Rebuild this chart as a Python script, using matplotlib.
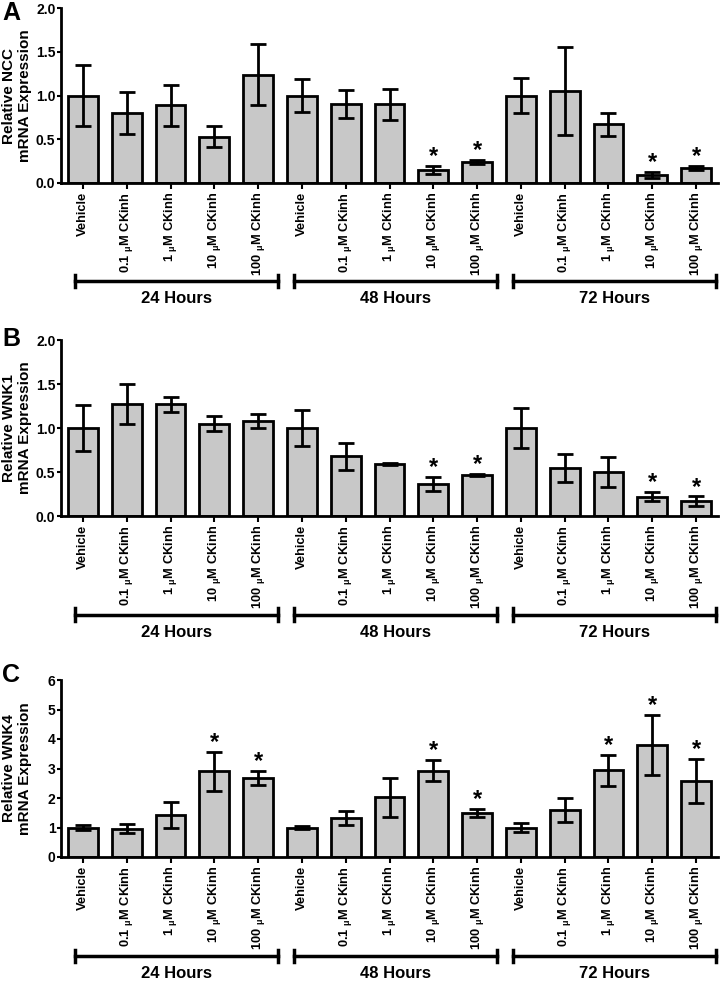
import numpy as np
import matplotlib
matplotlib.use('Agg')
from matplotlib import pyplot as plt

# categories
treatments = ['Vehicle', '0.1 $_{\\mu}$M CKinh', '1 $_{\\mu}$M CKinh',
              '10 $_{\\mu}$M CKinh', '100 $_{\\mu}$M CKinh']
times = ['24 Hours', '48 Hours', '72 Hours']

# panel A: NCC (15 bars: 5 treatments x 3 time points)
ncc_mean = [1.00, 0.80, 0.89, 0.53, 1.24,
            1.00, 0.90, 0.90, 0.15, 0.24,
            1.00, 1.05, 0.67, 0.09, 0.17]
ncc_err = [0.35, 0.24, 0.235, 0.12, 0.345,
           0.19, 0.16, 0.18, 0.045, 0.025,
           0.20, 0.50, 0.13, 0.038, 0.027]
ncc_sig = [8, 9, 13, 14]

# panel B: WNK1
wnk1_mean = [1.00, 1.27, 1.27, 1.05, 1.08,
             1.00, 0.68, 0.595, 0.365, 0.465,
             1.00, 0.545, 0.50, 0.22, 0.165]
wnk1_err = [0.26, 0.23, 0.085, 0.085, 0.08,
            0.20, 0.155, 0.01, 0.083, 0.012,
            0.23, 0.16, 0.17, 0.055, 0.057]
wnk1_sig = [8, 9, 13, 14]

# panel C: WNK4
wnk4_mean = [1.00, 0.96, 1.43, 2.90, 2.68,
             1.00, 1.32, 2.02, 2.93, 1.49,
             1.00, 1.59, 2.94, 3.80, 2.58]
wnk4_err = [0.08, 0.15, 0.43, 0.66, 0.24,
            0.04, 0.23, 0.65, 0.36, 0.13,
            0.14, 0.41, 0.52, 1.03, 0.75]
wnk4_sig = [3, 4, 8, 9, 12, 13, 14]

plt.rcParams['font.family'] = ['Liberation Sans', 'DejaVu Sans']
plt.rcParams['font.weight'] = 'bold'
plt.rcParams['mathtext.default'] = 'regular'

W, H = 723, 982
fig = plt.figure(figsize=(W / 100, H / 100), dpi=100)

labels = treatments * 3
x = np.arange(len(labels))


def px(xp, yp):
    return xp / W, 1 - yp / H


def panel(top, bottom, mean, err, sig, ylim, yticks, yfmt, ylabel, letter, letter_y):
    left, right = 61, 718
    ax = fig.add_axes([left / W, 1 - bottom / H, (right - left) / W, (bottom - top) / H])
    ax.bar(x, mean, width=0.68, color='#c8c8c8', edgecolor='black', linewidth=2.0, zorder=2)
    ax.errorbar(x, mean, yerr=err, fmt='none', ecolor='black', elinewidth=2.0,
                capsize=5.5, capthick=2.0, zorder=3)
    for i in sig:
        ax.text(x[i], mean[i] + err[i] - ylim[1] * 0.012, '*', ha='center', va='bottom',
                fontsize=17, fontweight='bold')
    ax.set_xlim(-0.5, 14.5)
    ax.set_ylim(*ylim)
    ax.set_yticks(yticks)
    ax.set_yticklabels([yfmt.format(v) for v in yticks], fontsize=10, fontweight='bold')
    ax.set_xticks(x)
    ax.set_xticklabels(labels, rotation=90, fontsize=9.3, fontweight='bold')
    ax.tick_params(axis='x', width=1.5, length=4, pad=2.5, direction='out')
    ax.tick_params(axis='y', width=1.5, length=3, pad=1, direction='out')
    for s in ['top', 'right']:
        ax.spines[s].set_visible(False)
    for s in ['left', 'bottom']:
        ax.spines[s].set_linewidth(2.0)

    # time brackets under the labels
    tr = ax.get_xaxis_transform()
    for k, t in enumerate(times):
        x0, x1 = k * 5 - 0.18, k * 5 + 4.45
        ax.plot([x0, x1], [-0.56, -0.56], color='black', lw=2.5, transform=tr, clip_on=False)
        ax.plot([x0, x0], [-0.525, -0.595], color='black', lw=2.5, transform=tr, clip_on=False)
        ax.plot([x1, x1], [-0.525, -0.595], color='black', lw=2.5, transform=tr, clip_on=False)
        ax.text((x0 + x1) / 2, -0.66, t, ha='center', va='center', transform=tr,
                fontsize=12, fontweight='bold')

    cy = (top + bottom) / 2
    fig.text(*px(17, cy), ylabel, rotation=90, ha='center', va='center',
             fontsize=11, fontweight='bold', linespacing=1.1, multialignment='center')
    fig.text(*px(2, letter_y), letter, ha='left', va='center', fontsize=18, fontweight='bold')
    return ax


panel(8, 183, ncc_mean, ncc_err, ncc_sig, (0, 2.0), [0, 0.5, 1.0, 1.5, 2.0], '{:.1f}',
      'Relative NCC\nmRNA Expression', 'A', 13)
panel(340, 516, wnk1_mean, wnk1_err, wnk1_sig, (0, 2.0), [0, 0.5, 1.0, 1.5, 2.0], '{:.1f}',
      'Relative WNK1\nmRNA Expression', 'B', 339)
panel(680, 857, wnk4_mean, wnk4_err, wnk4_sig, (0, 6), [0, 1, 2, 3, 4, 5, 6], '{:d}',
      'Relative WNK4\nmRNA Expression', 'C', 675)

fig.savefig('out.png', dpi=100)
